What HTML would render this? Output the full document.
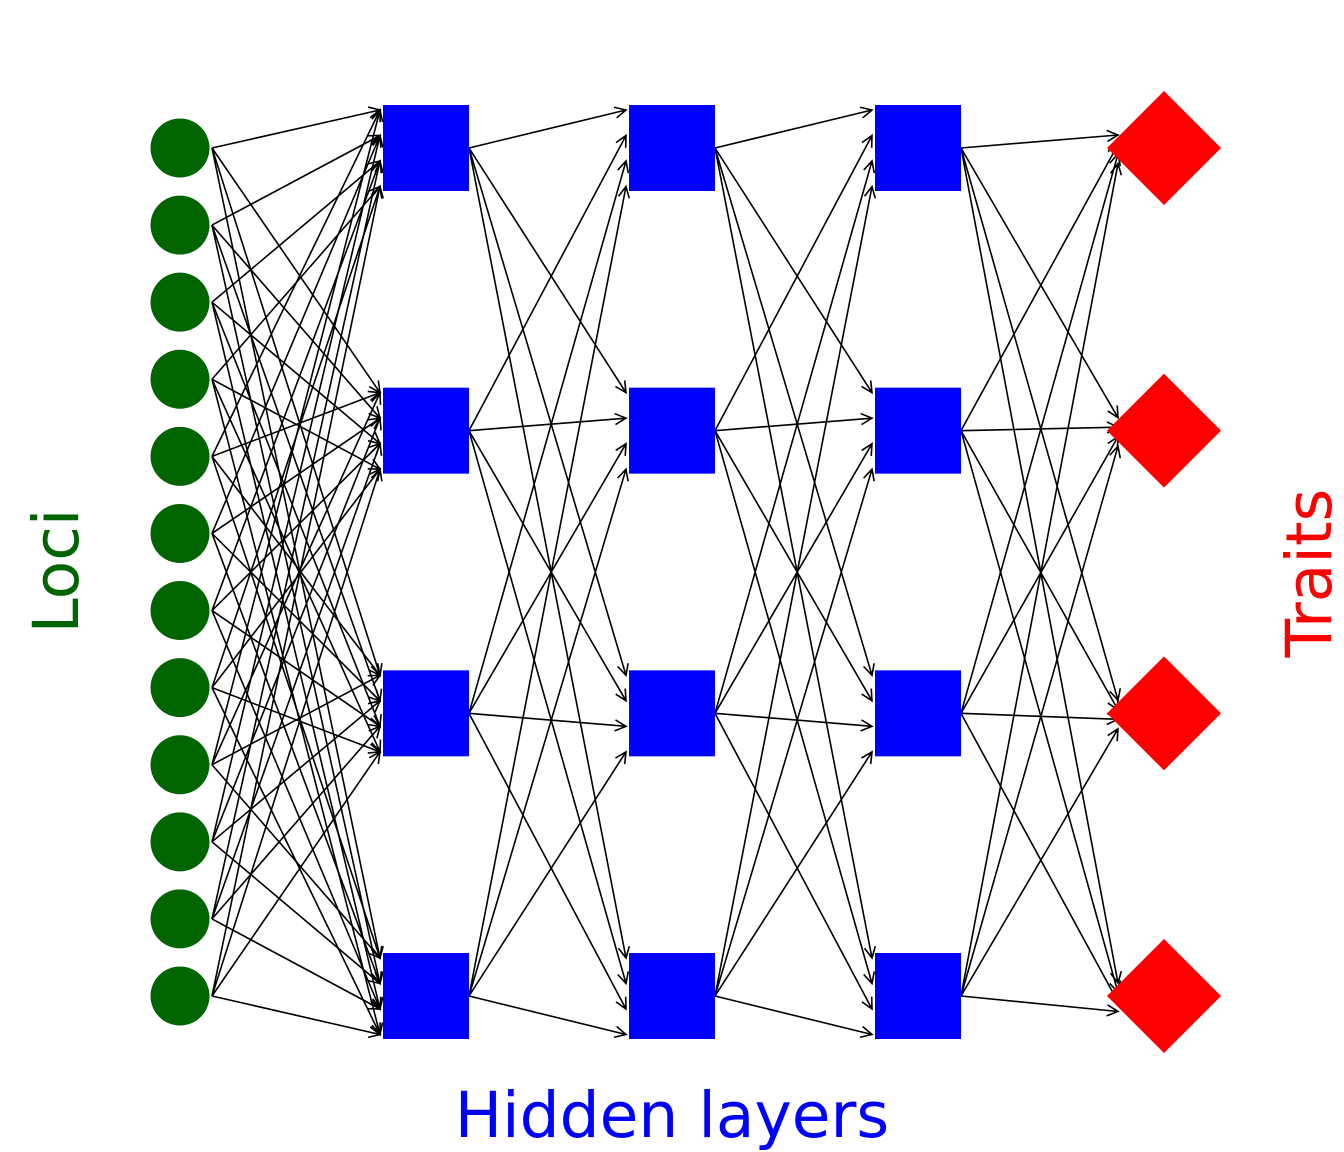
<!DOCTYPE html>
<html><head><meta charset="utf-8"><style>
html,body{margin:0;padding:0;background:#fff;}
svg{display:block;}
text{font-family:"DejaVu Sans","Liberation Sans",sans-serif;}
</style></head>
<body>
<svg id="net" width="1344" height="1152" viewBox="0 0 1344 1152" xmlns="http://www.w3.org/2000/svg">
<g id="edges"></g>
<g id="nodes"></g>
<text x="0" y="0" transform="translate(78,571) rotate(-90)" text-anchor="middle" font-size="63" fill="#006400">Loci</text>
<text x="0" y="0" transform="translate(1331,573) rotate(-90)" text-anchor="middle" font-size="63" fill="#ff0000">Traits</text>
<text x="672" y="1137" text-anchor="middle" font-size="63" fill="#0000ff">Hidden layers</text>
</svg>
<script>
const lociCount = 12;
const hiddenLayers = 3;
const hiddenCount = 4;
const traitCount = 4;
const layerX = [180, 426, 672, 918, 1164];

const NS = "http://www.w3.org/2000/svg";
const edgesG = document.getElementById('edges');
const nodesG = document.getElementById('nodes');
const top0 = 148, bot0 = 996;
function yPos(i, n){ return n === 1 ? (top0+bot0)/2 : top0 + (bot0-top0)*i/(n-1); }

function arrow(x1,y1,x2,y2,name){
  const g = document.createElementNS(NS,'g');
  
  
  const dx=x2-x1, dy=y2-y1, L=Math.hypot(dx,dy), ux=dx/L, uy=dy/L;
  const hl=11, hw=5.5;
  const bx=x2-ux*hl, by=y2-uy*hl;
  const p = document.createElementNS(NS,'path');
  p.setAttribute('d', `M${x1},${y1}L${x2},${y2}M${bx-uy*hw},${by+ux*hw}L${x2},${y2}L${bx+uy*hw},${by-ux*hw}`);
  p.setAttribute('stroke','#000');
  p.setAttribute('stroke-width','1.6');
  p.setAttribute('fill','none');
  g.appendChild(p);
  edgesG.appendChild(g);
}

for(let i=0;i<lociCount;i++){
  for(let t=0;t<hiddenCount;t++){
    const slot=i%4;
    arrow(layerX[0]+32, yPos(i,lociCount), layerX[1]-46, yPos(t,hiddenCount)-38+25.5*slot, 'edge-locus'+(i+1)+'-h1-'+(t+1));
  }
}
for(let l=0;l<hiddenLayers-1;l++){
  for(let s=0;s<hiddenCount;s++){
    for(let t=0;t<hiddenCount;t++){
      arrow(layerX[l+1]+43, yPos(s,hiddenCount), layerX[l+2]-46, yPos(t,hiddenCount)-38+25.5*s, 'edge-h'+(l+1)+'-'+(s+1)+'-h'+(l+2)+'-'+(t+1));
    }
  }
}
for(let s=0;s<hiddenCount;s++){
  for(let t=0;t<traitCount;t++){
    arrow(layerX[3]+43, yPos(s,hiddenCount), layerX[4]-46, yPos(t,traitCount)-13+9.5*s, 'edge-h3-'+(s+1)+'-trait'+(t+1));
  }
}

for(let i=0;i<lociCount;i++){
  const c=document.createElementNS(NS,'circle');
  
  
  c.setAttribute('cx',layerX[0]); c.setAttribute('cy',yPos(i,lociCount)); c.setAttribute('r',29.5);
  c.setAttribute('fill','#006400');
  nodesG.appendChild(c);
}
for(let l=0;l<hiddenLayers;l++){
  for(let i=0;i<hiddenCount;i++){
    const r=document.createElementNS(NS,'rect');
    
    
    r.setAttribute('x',layerX[l+1]-43); r.setAttribute('y',yPos(i,hiddenCount)-43);
    r.setAttribute('width',86); r.setAttribute('height',86);
    r.setAttribute('fill','#0000ff');
    nodesG.appendChild(r);
  }
}
for(let i=0;i<traitCount;i++){
  const cx=layerX[4], cy=yPos(i,traitCount), h=57;
  const p=document.createElementNS(NS,'polygon');
  
  
  p.setAttribute('points',`${cx},${cy-h} ${cx+h},${cy} ${cx},${cy+h} ${cx-h},${cy}`);
  p.setAttribute('fill','#ff0000');
  nodesG.appendChild(p);
}
</script>
</body></html>
